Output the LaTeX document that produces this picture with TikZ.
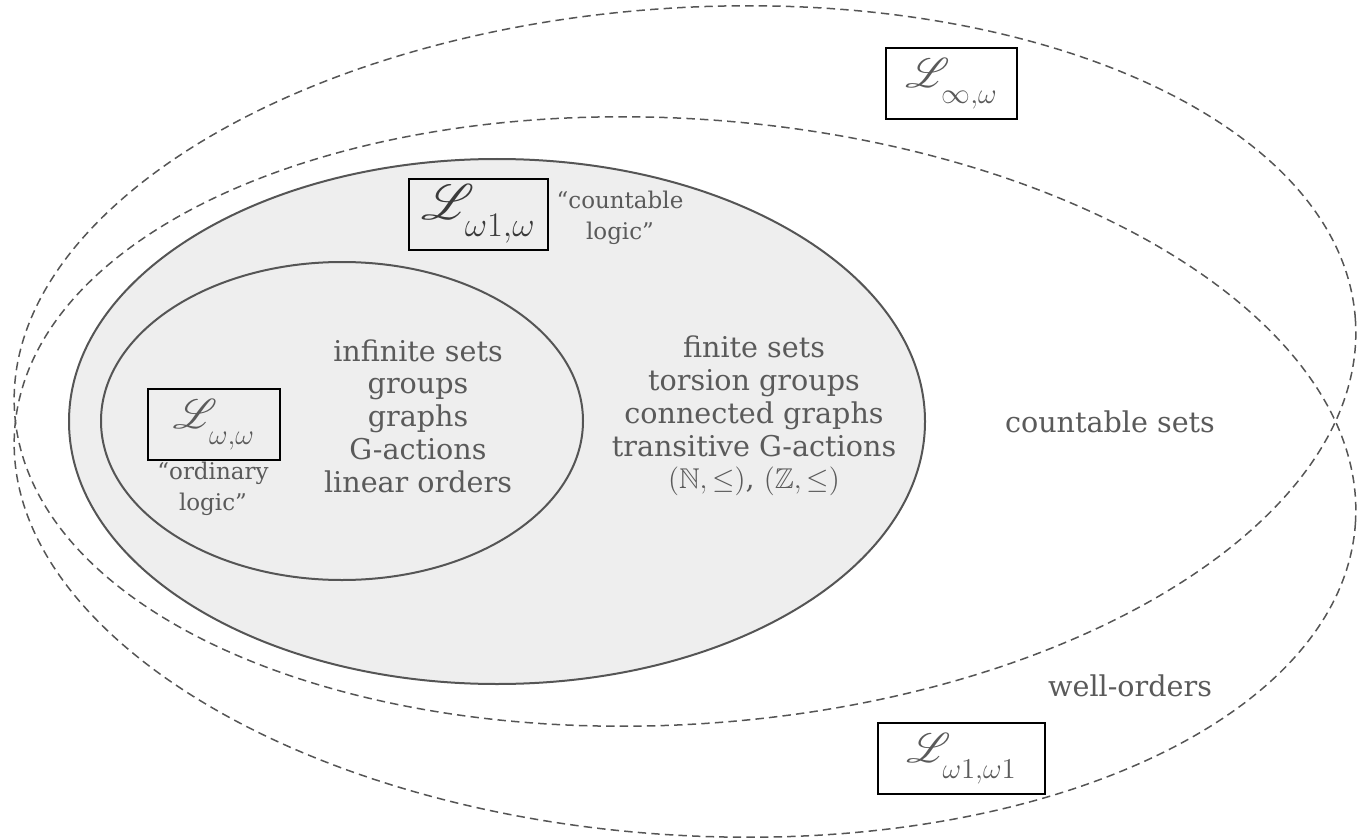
\documentclass[tikz,border=0pt]{standalone}
\usepackage{amssymb}
\usepackage{mathrsfs}
\usepackage{fontspec}
\setmainfont{DejaVu Serif}
\definecolor{txt}{HTML}{5A5A5A}
\definecolor{txtdark}{HTML}{3A3A3A}
\definecolor{fillg}{HTML}{EEEEEE}
\definecolor{linec}{HTML}{555555}
\newcommand{\lsub}[1]{\mathscr{L}_{\lower5pt\hbox{$\scriptstyle #1$}}}
\tikzset{
  solidell/.style={draw=linec, line width=1pt},
  dashell/.style={draw=linec, line width=0.75pt, dash pattern=on 4.2pt off 2.6pt},
  logicbox/.style={draw=black, line width=1pt, text=txt, inner sep=0pt, minimum height=35.5pt, font=\fontsize{21}{24}\selectfont},
  maintext/.style={text=txt, align=center, font=\fontsize{14.3}{16.4}\selectfont},
  smalltext/.style={text=txt, align=center, font=\fontsize{11.5}{15.5}\selectfont},
}
\begin{document}
\begin{tikzpicture}[x=0.5pt,y=-0.5pt]
\useasboundingbox (0,0) rectangle (1360,840);
% countable logic region
\fill[fillg] (497,421.5) ellipse [x radius=214pt, y radius=131.25pt];
\draw[solidell] (497,421.5) ellipse [x radius=214pt, y radius=131.25pt];
% ordinary logic region
\draw[solidell] (342,421) ellipse [x radius=120.5pt, y radius=79.5pt];
% L infinity omega region
\draw[dashell, rotate around={4:(685,366)}] (685,366) ellipse [x radius=336pt, y radius=179pt];
% L omega1 omega1 region
\draw[dashell, rotate around={-4:(685,477)}] (685,477) ellipse [x radius=336pt, y radius=179pt];

\node[logicbox, minimum width=65.5pt] (linf) at (951.5,83.5) {$\lsub{\infty,\omega}$};
\node[logicbox, minimum width=69.5pt, text=txtdark, font=\fontsize{23}{26}\selectfont] (lcount) at (478.5,214) {$\lsub{\omega1,\omega}$};
\node[logicbox, minimum width=66pt] (lord) at (214,424.5) {$\lsub{\omega,\omega}$};
\node[logicbox, minimum width=83.5pt] (lww) at (961.5,758.5) {$\lsub{\omega1,\omega1}$};

\node[smalltext] (countlogic) at (620,218) {``countable\\logic''};
\node[smalltext] (ordlogic) at (213,489) {``ordinary\\logic''};

\node[maintext] (inner) at (418,416) {infinite sets\\groups\\graphs\\G-actions\\linear orders};
\node[maintext] (outer) at (754,416) {finite sets\\torsion groups\\connected graphs\\transitive G-actions\\$(\mathbb{N},\leq)$, $(\mathbb{Z},\leq)$};
\node[maintext] (cset) at (1110,422) {countable sets};
\node[maintext] (word) at (1130,686) {well-orders};
\end{tikzpicture}
\end{document}
